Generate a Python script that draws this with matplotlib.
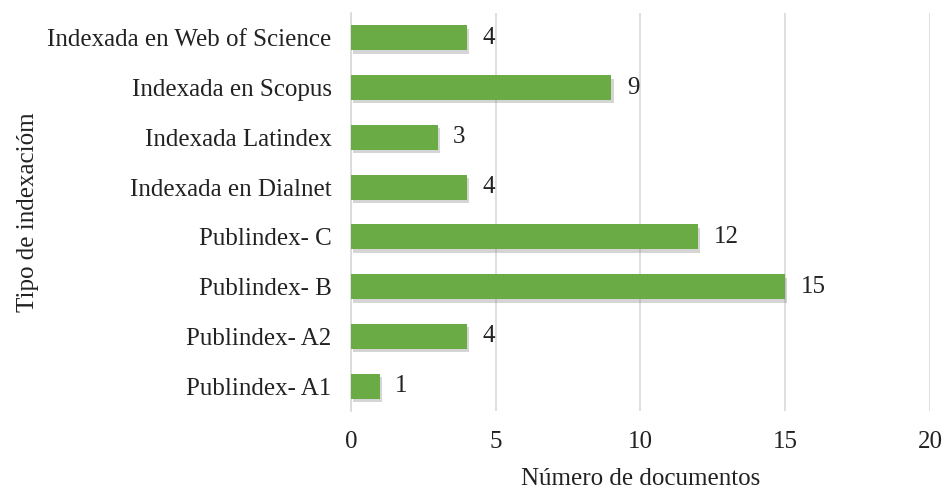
import matplotlib.pyplot as plt
import matplotlib.patheffects as pe

categories = [
    "Publindex- A1",
    "Publindex- A2",
    "Publindex- B",
    "Publindex- C",
    "Indexada en Dialnet",
    "Indexada Latindex",
    "Indexada en Scopus",
    "Indexada en Web of Science",
]
counts = [1, 4, 15, 12, 4, 3, 9, 4]
xticks = [0, 5, 10, 15, 20]

plt.rcParams["font.family"] = ["Liberation Serif", "DejaVu Serif"]
FS = 18

fig = plt.figure(figsize=(9.46, 4.93), dpi=100)
ax = fig.add_axes([0.371, 0.166, 0.612, 0.808])

bars = ax.barh(range(len(categories)), counts, height=0.5, color="#6bab45", zorder=3)
for b in bars:
    b.set_path_effects([
        pe.SimplePatchShadow(offset=(1.5, -2.5), shadow_rgbFace="#777777", alpha=0.3),
        pe.Normal(),
    ])

for i, v in enumerate(counts):
    ax.annotate(str(v), (v, i), xytext=(11, 0), textcoords="offset points",
                va="center", ha="left", fontsize=FS, color="#222222")

ax.set_xlim(0, 20)
ax.set_ylim(-0.5, len(categories) - 0.5)
ax.set_xticks(xticks)
ax.set_yticks(range(len(categories)))
ax.set_yticklabels(categories)
ax.tick_params(axis="both", length=0, labelsize=FS, colors="#222222")
ax.tick_params(axis="x", pad=14)
ax.tick_params(axis="y", pad=14)
ax.grid(axis="x", color="#d9d9d9", linewidth=1.2, zorder=0)
for s in ["top", "right", "bottom"]:
    ax.spines[s].set_visible(False)
ax.spines["left"].set_color("#d9d9d9")
ax.spines["left"].set_linewidth(1.2)

ax.set_xlabel("Número de documentos", fontsize=FS, color="#222222", labelpad=11)
ax.set_ylabel("Tipo de indexacióm", fontsize=FS, color="#222222", labelpad=6)

fig.savefig("out.png", dpi=100)
